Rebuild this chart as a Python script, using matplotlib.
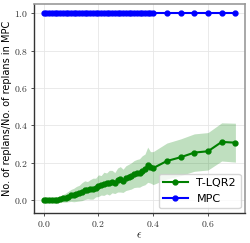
import numpy as np
import matplotlib
matplotlib.use("Agg")
import matplotlib.pyplot as plt

plt.rcParams['mathtext.fontset'] = 'cm'

eps = [0.00, 0.01, 0.02, 0.03, 0.04, 0.05, 0.06, 0.07, 0.08, 0.09,
       0.10, 0.11, 0.12, 0.13, 0.14, 0.15, 0.16, 0.17, 0.18, 0.19,
       0.20, 0.21, 0.22, 0.23, 0.24, 0.25, 0.26, 0.27, 0.28, 0.29,
       0.30, 0.31, 0.32, 0.33, 0.34, 0.35, 0.36, 0.37, 0.38, 0.39,
       0.40, 0.45, 0.50, 0.55, 0.60, 0.65, 0.70]
tlqr_mean = [0.000, 0.000, 0.000, 0.001, 0.002, 0.004, 0.006, 0.010, 0.014, 0.020,
             0.026, 0.028, 0.034, 0.038, 0.046, 0.054, 0.054, 0.058, 0.062, 0.068,
             0.078, 0.080, 0.088, 0.090, 0.094, 0.100, 0.092, 0.108, 0.112, 0.104,
             0.118, 0.124, 0.130, 0.140, 0.144, 0.146, 0.158, 0.165, 0.190, 0.176,
             0.172, 0.210, 0.230, 0.255, 0.262, 0.312, 0.308]
tlqr_std = [0.000, 0.002, 0.004, 0.006, 0.009, 0.012, 0.015, 0.020, 0.024, 0.028,
            0.032, 0.036, 0.040, 0.042, 0.048, 0.050, 0.046, 0.052, 0.056, 0.050,
            0.058, 0.052, 0.062, 0.056, 0.066, 0.060, 0.056, 0.064, 0.068, 0.062,
            0.066, 0.068, 0.070, 0.072, 0.074, 0.076, 0.080, 0.082, 0.094, 0.084,
            0.088, 0.096, 0.098, 0.100, 0.100, 0.102, 0.104]
mpc_ratio = [1.0] * len(eps)

x = np.array(eps)
m = np.array(tlqr_mean)
s = np.array(tlqr_std)

fig = plt.figure(figsize=(2.5, 2.43), dpi=100)
ax = fig.add_axes([0.136, 0.125, 0.844, 0.859])

ax.fill_between(x, m - s, m + s, color='green', alpha=0.25, linewidth=0)
ax.plot(x, m, '-o', color='green', markersize=3.5, linewidth=1.5, label='T-LQR2')
ax.plot(x, mpc_ratio, '-o', color='blue', markersize=3.5, linewidth=1.5, label='MPC')

ax.set_xlim(-0.035, 0.735)
ax.set_ylim(-0.066, 1.05)
ax.set_xticks([0.0, 0.2, 0.4, 0.6])
ax.set_xticklabels(['$0.0$', '$0.2$', '$0.4$', '$0.6$'])
ax.set_yticks([0.0, 0.2, 0.4, 0.6, 0.8, 1.0])
ax.set_yticklabels(['$0.0$', '$0.2$', '$0.4$', '$0.6$', '$0.8$', '$1.0$'])
ax.tick_params(labelsize=7, length=2.5, width=0.6, pad=2, colors='#333333')
ax.grid(True, color='#e6e6e6', linewidth=0.6)
ax.set_axisbelow(True)

for side in ['left', 'bottom']:
    ax.spines[side].set_color('#333333')
    ax.spines[side].set_linewidth(1.0)
for side in ['top', 'right']:
    ax.spines[side].set_color('#999999')
    ax.spines[side].set_linewidth(1.2)

ax.set_xlabel(r'$\epsilon$', fontsize=8, labelpad=1)
ax.set_ylabel('No. of replans/No. of replans in MPC', fontsize=7, labelpad=1)
ax.legend(loc='lower right', fontsize=8, handlelength=2.2, borderaxespad=0.4)

fig.savefig('out.png', dpi=100)
